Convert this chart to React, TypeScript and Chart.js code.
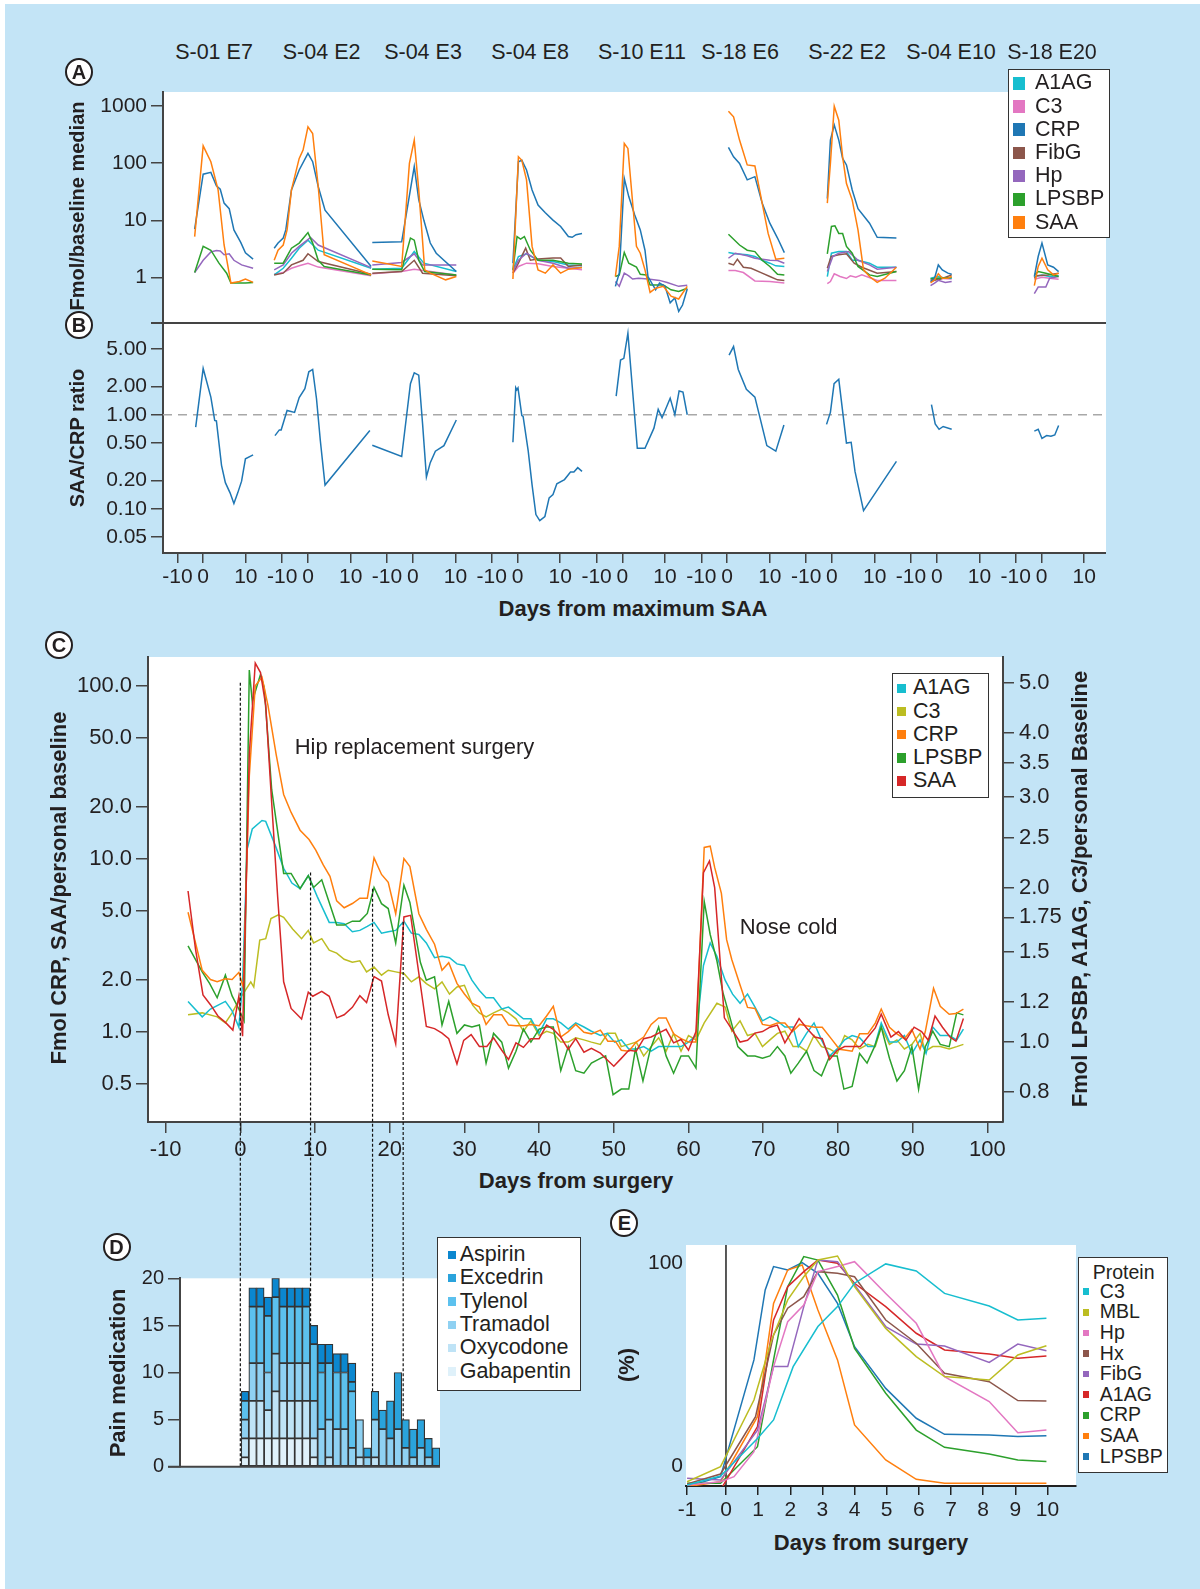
import React, { useEffect, useRef } from "react";
import { Chart, registerables } from "chart.js";
Chart.register(...registerables);

type P = [number, number][];

const FONT = "'Liberation Sans', Arial, Helvetica, sans-serif";
const TXT = "#231f20";
const AXIS = "#444444";
const BG_BLUE = "#c3e4f6";

// ---------------- Panel A / B ----------------
const AB_SUBPANELS = ["S-01 E7", "S-04 E2", "S-04 E3", "S-04 E8", "S-10 E11", "S-18 E6", "S-22 E2", "S-04 E10", "S-18 E20"];
const AB_TICK_DAYS = [-10, 0, 10];
const A_DRAW_ORDER = ["SAA", "CRP", "LPSBP", "Hp", "FibG", "A1AG", "C3"];
const A_LEGEND = ["A1AG", "C3", "CRP", "FibG", "Hp", "LPSBP", "SAA"];
const A_COLORS: Record<string, string> = { A1AG: "#17becf", C3: "#e377c2", CRP: "#1f77b4", FibG: "#8c564b", Hp: "#9467bd", LPSBP: "#2ca02c", SAA: "#ff7f0e" };
const A_Y_TICKS = [1, 10, 100, 1000];
const B_Y_TICKS = [0.05, 0.1, 0.2, 0.5, 1, 2, 5];

const A_S01_E7: Record<string, P> = {
  CRP: [[-3.3, 7.0], [0, 64], [1.8, 69], [3.1, 40], [4.0, 35], [4.9, 20], [6.1, 16], [7.2, 6.8], [8.8, 4.1], [9.9, 2.7], [11.7, 2.1]],
  SAA: [[-3.3, 5.2], [0, 201], [1.8, 106], [3.5, 34], [4.9, 3.7], [6.5, 0.8], [8.5, 0.85], [9.9, 0.94], [11.7, 0.82]],
  LPSBP: [[-3.3, 1.22], [0, 3.5], [1.8, 3.0], [3.7, 1.78], [5.5, 1.19], [6.5, 0.8], [9.9, 0.8], [11.7, 0.82]],
  Hp: [[-3.3, 1.22], [0, 2.0], [1.8, 2.8], [3.1, 2.96], [4.0, 2.9], [4.9, 2.5], [6.1, 2.6], [7.2, 2.0], [9.0, 1.66], [11.7, 1.45]],
};
const A_S04_E2: Record<string, P> = {
  CRP: [[-13.1, 3.25], [-11.6, 4.0], [-9.6, 4.9], [-8.6, 6.8], [-6.4, 34], [-3.4, 76], [0, 148], [1.1, 106], [2.4, 39], [4.0, 15], [14.8, 1.56]],
  SAA: [[-13.1, 2.0], [-11.6, 3.0], [-9.6, 3.7], [-8.1, 6.8], [-6.4, 34], [-3.4, 121], [-1.9, 169], [0, 432], [1.1, 330], [2.4, 39], [3.8, 2.5], [14.8, 1.11]],
  LPSBP: [[-13.1, 1.78], [-9.6, 1.78], [-6.4, 3.25], [-3.4, 4.0], [0, 6.1], [1.1, 4.0], [2.4, 2.0], [3.8, 1.56], [14.8, 1.11]],
  A1AG: [[-13.1, 1.11], [-9.6, 1.45], [-6.4, 2.17], [-3.4, 3.25], [0, 4.5], [2.4, 3.0], [14.8, 1.45]],
  Hp: [[-13.1, 1.36], [-9.6, 1.66], [-6.4, 2.66], [-3.4, 3.5], [0.6, 5.0], [2.4, 3.7], [14.8, 1.49]],
  FibG: [[-13.1, 1.11], [-9.6, 1.19], [-6.4, 1.66], [-1.9, 2.0], [0, 2.6], [2.4, 1.9], [14.8, 1.14]],
  C3: [[-13.1, 1.14], [-9.6, 1.22], [-6.4, 1.45], [-3.4, 1.6], [0, 1.78], [2.4, 1.52], [14.8, 1.07]],
};
const A_S04_E3: Record<string, P> = {
  CRP: [[-15.7, 4.1], [-4.3, 4.2], [0.35, 87], [1.4, 23], [2.6, 10], [4.1, 4.0], [5.5, 2.66], [10.2, 1.27]],
  SAA: [[-15.7, 1.95], [-4.3, 1.56], [-1.3, 99], [0.35, 253], [1.4, 34], [2.8, 1.36], [4.1, 1.19], [7.7, 0.91], [10.2, 1.04]],
  LPSBP: [[-15.7, 1.4], [-4.3, 1.36], [-0.9, 4.9], [0.35, 4.5], [1.4, 2.0], [2.8, 1.27], [10.2, 1.11]],
  A1AG: [[-15.7, 1.4], [-4.3, 1.45], [0.35, 2.84], [2.6, 1.78], [10.2, 1.27]],
  Hp: [[-15.7, 1.66], [-4.3, 1.83], [0.35, 2.6], [2.3, 1.66], [10.2, 1.66]],
  FibG: [[-15.7, 1.19], [-4.3, 1.27], [0.35, 2.0], [2.3, 1.19], [10.2, 1.07]],
  C3: [[-15.7, 1.16], [-4.3, 1.27], [0.35, 1.4], [10.2, 1.11]],
};
const A_S04_E8: Record<string, P> = {
  CRP: [[-1.8, 1.78], [0.2, 106], [1.0, 112], [2.1, 76], [3.4, 34], [4.8, 18.5], [6.5, 13.6], [8.3, 10.1], [10.1, 7.8], [11.9, 5.2], [12.8, 5.05], [13.7, 5.6], [15.1, 5.9]],
  SAA: [[-1.8, 0.94], [0.2, 129], [1.0, 112], [2.1, 51], [3.4, 3.5], [4.8, 1.36], [6.5, 1.19], [8.3, 1.66], [10.1, 1.19], [11.9, 1.4], [15.1, 1.5]],
  LPSBP: [[-1.8, 1.36], [-0.2, 5.2], [0.7, 4.7], [1.6, 5.2], [3.0, 3.0], [4.8, 2.0], [8.3, 2.0], [11.9, 1.78], [15.1, 1.73]],
  A1AG: [[-1.8, 1.36], [0.2, 2.33], [2.1, 2.6], [4.8, 2.0], [8.3, 1.9], [11.9, 1.66], [15.1, 1.6]],
  FibG: [[-1.8, 1.19], [0.2, 1.78], [1.9, 3.25], [3.0, 2.0], [4.8, 2.1], [8.3, 2.2], [10.1, 2.2], [11.9, 1.56], [15.1, 1.66]],
  Hp: [[-1.8, 1.27], [0.2, 2.0], [2.1, 2.66], [4.8, 2.0], [8.3, 1.78], [11.9, 1.45], [15.1, 1.5]],
  C3: [[-1.8, 1.19], [0.2, 1.56], [2.1, 1.78], [4.8, 1.74], [8.3, 1.56], [11.9, 1.45], [15.1, 1.36]],
};
const A_S10_E11: Record<string, P> = {
  CRP: [[-2.7, 0.7], [-1.2, 1.19], [0.45, 54], [1.5, 26], [2.9, 12.4], [4.2, 6.8], [5.3, 3.0], [6.0, 1.04], [7.8, 0.61], [8.7, 0.8], [10.0, 0.7], [11.2, 0.36], [12.3, 0.44], [13.2, 0.255], [14.1, 0.33], [15.2, 0.63]],
  SAA: [[-2.7, 1.04], [-1.2, 3.5], [0.45, 221], [1.3, 181], [3.3, 3.5], [4.2, 2.66], [5.3, 1.36], [6.5, 0.55], [7.8, 0.65], [9.6, 0.7], [11.4, 0.47], [13.2, 0.42], [14.1, 0.53], [15.2, 0.7]],
  LPSBP: [[-2.7, 1.04], [-1.2, 1.11], [0.45, 2.73], [1.5, 1.78], [3.3, 1.52], [4.2, 1.14], [5.6, 1.11], [6.5, 0.74], [9.6, 0.74], [11.4, 0.61], [13.2, 0.57], [15.2, 0.65]],
  Hp: [[-2.7, 0.85], [-1.2, 0.7], [0.45, 1.19], [1.5, 1.07], [2.4, 0.94], [3.8, 0.97], [6.0, 0.94], [8.7, 0.89], [10.5, 0.82], [13.2, 0.7], [15.2, 0.73]],
};
const A_S18_E6: Record<string, P> = {
  SAA: [[0.3, 811], [1.5, 645], [2.9, 253], [4.7, 93], [6.5, 89], [8.2, 20], [9.6, 5.9], [11.4, 2.09], [13.4, 2.17]],
  CRP: [[0.3, 188], [1.5, 129], [2.9, 99], [4.7, 51], [6.5, 58], [8.2, 20], [10.0, 8.9], [11.8, 4.9], [13.4, 2.73]],
  LPSBP: [[0.3, 5.7], [2.9, 3.7], [4.7, 3.0], [6.5, 2.84], [8.2, 2.0], [10.0, 1.56], [11.8, 1.14], [13.4, 1.11]],
  A1AG: [[0.3, 2.73], [1.9, 2.6], [4.7, 2.5], [6.5, 2.33], [8.2, 2.0], [10.0, 1.78], [11.4, 1.6], [13.4, 1.56]],
  Hp: [[0.3, 2.17], [1.9, 2.66], [4.7, 2.4], [6.5, 2.17], [10.0, 2.0], [11.8, 1.98], [13.4, 1.78]],
  FibG: [[0.3, 1.78], [1.5, 1.66], [2.4, 2.09], [3.8, 1.51], [5.6, 1.45], [8.2, 1.19], [10.0, 1.04], [11.8, 0.91], [13.4, 0.89]],
  C3: [[0.3, 1.32], [1.9, 1.32], [3.8, 1.22], [6.5, 0.87], [10.0, 0.85], [13.4, 0.8]],
};
const A_S22_E2: Record<string, P> = {
  CRP: [[-1.8, 24], [-0.6, 253], [0.54, 462], [1.6, 253], [2.5, 121], [3.4, 93], [4.75, 34], [6.1, 16], [8.8, 8.9], [10.6, 5.05], [15.1, 4.9]],
  SAA: [[-1.8, 20], [-0.6, 99], [0.54, 991], [1.6, 565], [2.5, 129], [3.4, 44], [4.75, 22.6], [6.1, 6.8], [7.4, 1.36], [8.8, 1.04], [10.6, 0.82], [12.4, 0.97], [15.1, 1.51]],
  LPSBP: [[-1.8, 2.6], [-0.2, 7.8], [0.7, 8.0], [1.6, 5.9], [2.5, 5.9], [3.4, 3.5], [4.75, 2.66], [6.1, 1.56], [8.8, 1.11], [10.6, 1.04], [15.1, 1.27]],
  A1AG: [[-1.8, 1.04], [-0.2, 2.66], [1.6, 2.84], [3.4, 2.84], [4.75, 2.0], [6.1, 2.0], [8.8, 1.78], [10.6, 1.51], [15.1, 1.51]],
  FibG: [[-1.8, 1.45], [-0.3, 2.33], [1.6, 2.5], [3.4, 2.6], [5.2, 1.78], [7.0, 1.51], [10.6, 1.19], [15.1, 1.27]],
  Hp: [[-1.8, 1.27], [0.2, 2.33], [1.6, 2.66], [3.9, 2.84], [6.1, 2.0], [8.8, 1.66], [10.6, 1.4], [15.1, 1.51]],
  C3: [[-1.8, 0.78], [-0.6, 0.85], [0.54, 1.16], [1.9, 1.04], [3.4, 0.96], [4.3, 1.07], [5.6, 1.01], [7.0, 1.11], [10.6, 0.89], [15.1, 0.89]],
};
const A_S04_E10: Record<string, P> = {
  CRP: [[-2.4, 0.85], [-0.85, 0.97], [0.37, 1.66], [1.3, 1.36], [2.6, 1.19], [3.5, 1.14]],
  SAA: [[-2.4, 0.8], [-0.85, 0.91], [0.37, 1.16], [1.3, 0.97], [2.6, 0.97], [3.5, 1.04]],
  A1AG: [[-2.4, 0.97], [-0.85, 1.01], [0.37, 1.04], [2.0, 0.97], [3.5, 0.97]],
  Hp: [[-2.4, 0.72], [-0.85, 0.8], [0.37, 0.89], [2.0, 0.82], [3.5, 0.85]],
  FibG: [[-2.4, 0.85], [-0.1, 0.91], [0.8, 0.93], [3.5, 1.11]],
  LPSBP: [[-2.4, 0.94], [-0.85, 0.97], [0.37, 0.97], [3.5, 1.0]],
  C3: [[-2.4, 0.91], [0.37, 0.97], [3.5, 0.94]],
};
const A_S18_E20: Record<string, P> = {
  CRP: [[-2.8, 1.04], [-1.3, 2.33], [0.1, 4.0], [1.45, 1.66], [2.8, 1.51], [4.0, 1.27]],
  SAA: [[-2.8, 0.72], [-1.3, 1.56], [0.1, 2.17], [1.45, 1.36], [2.8, 1.11], [4.0, 1.19]],
  Hp: [[-2.8, 0.52], [-1.3, 0.68], [1.0, 0.68], [1.9, 0.97], [4.0, 1.04]],
  LPSBP: [[-2.8, 1.11], [-1.3, 1.27], [1.0, 1.19], [4.0, 1.04]],
  A1AG: [[-2.8, 1.04], [0.1, 1.11], [1.9, 1.04], [4.0, 1.07]],
  FibG: [[-2.8, 0.97], [-1.8, 1.07], [1.45, 1.11], [4.0, 1.19]],
  C3: [[-2.8, 0.93], [0.1, 1.01], [1.9, 0.97], [4.0, 0.93]],
};
const A_DATA = [A_S01_E7, A_S04_E2, A_S04_E3, A_S04_E8, A_S10_E11, A_S18_E6, A_S22_E2, A_S04_E10, A_S18_E20];

const B_S01_E7: P = [[-2.9, 0.74], [0, 3.1], [1.8, 1.54], [2.7, 0.87], [3.1, 0.86], [4.3, 0.29], [5.2, 0.19], [6.3, 0.148], [7.2, 0.114], [8.1, 0.148], [9.0, 0.197], [9.9, 0.34], [11.7, 0.375]];
const B_S04_E2: P = [[-12.8, 0.6], [-11.1, 0.69], [-10.4, 0.69], [-8.1, 1.11], [-5.2, 1.06], [-3.4, 1.52], [-1.2, 1.89], [0.2, 2.86], [1.1, 3.03], [2.0, 1.48], [2.9, 0.53], [4.0, 0.179], [14.5, 0.68]];
const B_S04_E3: P = [[-15.7, 0.475], [-4.3, 0.36], [-0.9, 2.14], [0.35, 2.79], [1.4, 2.63], [2.3, 0.8], [3.2, 0.218], [4.1, 0.31], [5.3, 0.41], [7.3, 0.47], [10.2, 0.88]];
const B_S04_E8: P = [[-1.8, 0.51], [-0.7, 1.94], [-0.3, 1.84], [0.1, 1.93], [1.0, 0.98], [1.3, 0.96], [2.5, 0.41], [3.4, 0.18], [4.3, 0.087], [5.2, 0.075], [6.4, 0.083], [7.4, 0.131], [8.3, 0.142], [9.2, 0.185], [11.0, 0.205], [12.4, 0.246], [13.2, 0.246], [14.1, 0.274], [15.1, 0.25]];
const B_S10_E11: P = [[-2.4, 1.58], [-0.7, 3.81], [0.35, 3.97], [1.3, 7.36], [3.5, 0.44], [5.3, 0.44], [7.4, 0.72], [8.4, 1.14], [9.3, 0.93], [11.2, 1.5], [12.3, 1.0], [13.3, 1.79], [14.2, 1.74], [15.2, 1.0]];
const B_S18_E6: P = [[0.45, 4.3], [1.5, 5.3], [2.6, 3.03], [4.5, 1.86], [6.5, 1.54], [9.3, 0.47], [11.4, 0.41], [13.3, 0.78]];
const B_S22_E2: P = [[-2.1, 0.79], [-0.6, 1.06], [0.5, 2.14], [1.6, 2.38], [3.4, 0.5], [4.5, 0.51], [5.4, 0.25], [7.4, 0.096], [15.1, 0.32]];
const B_S04_E10: P = [[-2.05, 1.28], [-0.6, 0.8], [0.55, 0.7], [1.5, 0.75], [3.5, 0.7]];
const B_S18_E20: P = [[-2.8, 0.67], [-1.3, 0.7], [0.1, 0.56], [1.2, 0.6], [2.2, 0.59], [3.1, 0.61], [4.0, 0.77]];
const B_DATA = [B_S01_E7, B_S04_E2, B_S04_E3, B_S04_E8, B_S10_E11, B_S18_E6, B_S22_E2, B_S04_E10, B_S18_E20];

// ---------------- Panel C ----------------
const C_X_TICKS = [-10, 0, 10, 20, 30, 40, 50, 60, 70, 80, 90, 100];
const C_YL_TICKS = [0.5, 1, 2, 5, 10, 20, 50, 100];
const C_YR_TICKS = [0.8, 1.0, 1.2, 1.5, 1.75, 2.0, 2.5, 3.0, 3.5, 4.0, 5.0];
const C_EVENT_DAYS = [0, 9.4, 17.7, 21.8];
const C_EVENT_TOPS = [104, 8.3, 6.7, 4.3];
const C_SAA: P = [[-7, 6.5], [-6, 3.0], [-5, 1.63], [-4, 1.43], [-3, 1.23], [-2, 1.13], [-1, 1.02], [-0.2, 1.6], [0.3, 0.94], [1.2, 40], [2, 135], [2.7, 119], [3.4, 77], [4.2, 21], [5, 6], [5.8, 1.94], [6.8, 1.36], [8.2, 1.18], [9.1, 1.69], [9.7, 1.6], [10.9, 1.71], [11.9, 1.6], [12.9, 1.2], [13.9, 1.25], [15, 1.38], [16, 1.61], [16.9, 1.47], [17.9, 2.08], [18.9, 1.96], [19.8, 1.25], [20.8, 0.85], [21.9, 4.6], [22.8, 4.7], [24.9, 1.07], [26, 1.04], [27, 0.98], [27.9, 0.91], [29, 0.65], [29.9, 0.89], [30.9, 0.96], [32, 0.82], [33, 0.82], [33.9, 0.92], [35, 0.78], [35.9, 0.69], [36.9, 0.86], [37.9, 0.81], [38.9, 0.91], [40, 0.91], [41, 1.09], [41.9, 1.03], [42.9, 0.93], [43.9, 0.79], [44.9, 0.91], [46, 0.76], [47, 0.8], [48.2, 0.75], [49.2, 0.68], [50, 0.63], [51, 0.7], [52, 0.78], [53, 0.77], [54, 0.91], [55, 0.93], [56, 0.98], [57, 1.03], [58, 0.86], [59, 0.9], [60, 0.78], [61, 1.0], [62, 8.3], [62.8, 9.7], [63.5, 6.8], [64.8, 1.2], [65.8, 1.03], [66.9, 0.87], [67.9, 0.89], [68.9, 0.98], [69.9, 1.0], [70.9, 1.06], [71.9, 1.09], [72.9, 0.86], [73.8, 1.0], [74.8, 1.19], [75.8, 1.05], [76.9, 0.93], [77.9, 0.91], [78.9, 0.69], [79.9, 0.78], [80.9, 0.82], [81.9, 0.82], [83, 0.82], [84, 0.93], [85, 1.05], [85.8, 1.26], [87.1, 0.93], [88.1, 1.0], [89.1, 0.89], [90.2, 1.06], [91.2, 1.0], [92.1, 0.89], [93, 1.23], [94, 1.06], [95, 0.93], [95.8, 0.88], [96.8, 1.19]];
const C_CRP: P = [[-7, 4.9], [-5.1, 2.26], [-4, 2.0], [-3.1, 1.94], [-2, 2.02], [-1.1, 2.0], [-0.2, 2.2], [0.4, 1.8], [1.2, 30], [2, 100], [2.9, 112], [3.7, 77], [4.8, 40], [5.8, 23.5], [6.8, 18.5], [8, 14.6], [9.2, 12.9], [10.1, 11.2], [11.1, 9.2], [12, 7.9], [12.9, 5.7], [13.9, 5.2], [15, 5.5], [16, 5.9], [17, 5.9], [17.9, 10.1], [18.9, 8.1], [19.8, 7.3], [20.8, 4.8], [21.9, 10], [22.7, 9.0], [23.9, 4.8], [24.9, 3.9], [26, 3.2], [27, 2.26], [27.9, 2.5], [29, 1.9], [30, 1.65], [31, 1.46], [32, 1.39], [32.9, 1.1], [33.9, 1.25], [35, 1.25], [35.9, 1.09], [36.9, 1.08], [37.9, 1.08], [38.9, 1.1], [40, 1.08], [41, 1.23], [41.9, 1.4], [42.9, 0.93], [43.9, 1.0], [44.9, 1.1], [46, 0.99], [47, 0.97], [48.2, 1.02], [49.2, 0.88], [50.2, 0.88], [51, 0.78], [52, 0.77], [53, 0.87], [54, 0.93], [55, 1.1], [56, 1.2], [57, 1.2], [58, 0.97], [59, 0.91], [60, 0.87], [61, 0.87], [62.1, 11.6], [62.9, 11.8], [63.5, 8.9], [64.4, 6.3], [65.1, 3.4], [65.8, 2.6], [66.9, 1.86], [67.9, 1.38], [68.9, 1.36], [69.9, 1.1], [70.9, 1.08], [71.9, 1.12], [72.9, 1.12], [73.9, 1.0], [74.9, 1.1], [75.8, 1.08], [76.9, 1.06], [77.9, 1.06], [79.1, 0.91], [80.2, 0.79], [81.1, 0.78], [81.9, 0.77], [82.9, 0.97], [84, 0.97], [85, 1.12], [85.8, 1.35], [86.9, 1.06], [87.9, 0.97], [88.9, 0.91], [89.9, 1.03], [91, 0.79], [91.7, 1.0], [92.8, 1.78], [93.7, 1.4], [94.9, 1.26], [95.8, 1.27], [96.8, 1.35]];
const C_LPSBP: P = [[-7, 1.54], [-5.1, 1.37], [-4.1, 1.3], [-3.1, 1.22], [-2, 1.35], [-1.1, 1.23], [-0.2, 1.16], [0.5, 1.1], [1.2, 5.3], [1.6, 4.6], [2.7, 5.2], [3.2, 4.9], [4.2, 3.1], [5.8, 2.13], [6.8, 2.13], [8, 1.99], [9.1, 2.11], [9.8, 2.0], [10.9, 2.07], [11.9, 1.87], [12.9, 1.69], [13.9, 1.69], [15, 1.72], [16, 1.72], [17, 1.78], [17.9, 2.0], [18.9, 1.86], [19.8, 1.82], [20.8, 1.56], [21.9, 2.02], [22.7, 1.87], [24.1, 1.43], [24.9, 1.32], [26, 1.34], [27, 1.08], [27.9, 1.2], [29, 1.04], [30, 1.08], [31, 1.07], [32, 1.08], [32.9, 0.91], [33.9, 1.04], [35, 1.0], [35.9, 0.89], [36.9, 0.96], [37.9, 1.06], [38.9, 1.0], [40, 1.06], [41, 1.07], [41.9, 1.07], [42.9, 0.88], [43.9, 0.98], [44.9, 0.88], [46, 0.87], [47, 0.91], [48.2, 0.93], [48.9, 0.94], [49.9, 0.79], [51, 0.81], [52, 0.81], [52.9, 0.97], [53.9, 0.84], [54.9, 0.97], [56, 1.07], [57, 0.94], [58, 0.87], [59, 0.94], [60, 0.94], [61, 0.89], [62.1, 1.88], [62.9, 1.62], [63.8, 1.44], [64.6, 1.25], [65.6, 1.11], [66.6, 0.98], [67.9, 0.94], [68.9, 0.94], [69.9, 0.93], [70.9, 0.94], [71.9, 0.98], [72.9, 0.94], [73.7, 0.87], [74.7, 0.91], [75.8, 0.96], [76.8, 0.88], [77.8, 0.86], [78.9, 0.94], [79.9, 0.94], [80.8, 0.81], [81.9, 0.82], [82.9, 0.95], [83.9, 0.91], [84.9, 0.98], [85.8, 1.07], [86.9, 0.93], [87.9, 0.84], [88.9, 0.88], [89.9, 0.98], [90.8, 0.81], [91.7, 0.98], [92.7, 1.05], [93.7, 0.99], [94.9, 0.98], [95.9, 1.14], [96.8, 1.13]];
const C_A1AG: P = [[-7, 1.2], [-5.1, 1.12], [-4, 1.16], [-2, 1.2], [-1.1, 1.15], [-0.2, 1.07], [0.3, 1.3], [0.9, 2.37], [1.6, 2.6], [2.9, 2.7], [3.4, 2.69], [4.7, 2.41], [5.8, 2.18], [6.9, 2.04], [8, 1.99], [9.1, 2.11], [10.3, 1.92], [11.9, 1.71], [12.9, 1.71], [13.9, 1.7], [15, 1.64], [16, 1.65], [17, 1.68], [17.9, 1.71], [18.9, 1.63], [19.8, 1.64], [20.8, 1.65], [21.9, 1.72], [22.9, 1.63], [23.9, 1.62], [24.9, 1.56], [26, 1.46], [27, 1.47], [28, 1.46], [29, 1.42], [30, 1.41], [31, 1.32], [32, 1.26], [32.9, 1.22], [33.9, 1.22], [35, 1.16], [35.9, 1.17], [36.9, 1.14], [37.9, 1.11], [38.9, 1.11], [40, 1.04], [41, 1.11], [41.9, 1.11], [42.9, 1.09], [43.9, 1.06], [44.9, 1.09], [46, 1.07], [47, 1.05], [48.2, 1.03], [49.1, 1.04], [50.1, 1.0], [51, 1.01], [52, 0.97], [53, 0.97], [54, 0.98], [55, 0.96], [56, 0.98], [57, 0.98], [58, 0.98], [59, 0.98], [60, 1.0], [61, 1.03], [62, 1.41], [62.9, 1.56], [63.8, 1.47], [64.9, 1.32], [65.9, 1.24], [66.9, 1.19], [67.9, 1.24], [68.9, 1.17], [69.9, 1.1], [70.9, 1.12], [71.9, 1.1], [72.9, 1.07], [74, 1.07], [74.7, 0.98], [75.8, 1.04], [76.8, 1.09], [77.8, 1.01], [78.9, 0.94], [79.9, 0.97], [80.9, 1.01], [81.9, 1.03], [82.9, 1.02], [84, 0.98], [84.9, 0.98], [85.8, 1.09], [86.9, 1.0], [87.9, 1.0], [88.9, 1.03], [89.9, 0.95], [91, 1.01], [91.8, 0.95], [92.7, 1.07], [93.7, 1.03], [94.9, 1.03], [95.9, 1.01], [96.8, 1.06]];
const C_C3: P = [[-7, 1.13], [-5.1, 1.14], [-3.1, 1.12], [-2, 1.09], [-1.1, 1.14], [0, 1.22], [0.5, 1.25], [1.4, 1.31], [1.8, 1.28], [2.6, 1.58], [3.4, 1.59], [4.1, 1.74], [5.1, 1.77], [5.8, 1.75], [7, 1.66], [8.2, 1.59], [9.1, 1.65], [9.8, 1.56], [10.9, 1.59], [11.9, 1.51], [12.9, 1.49], [13.9, 1.45], [15, 1.43], [16, 1.44], [16.9, 1.37], [17.9, 1.4], [18.9, 1.35], [19.8, 1.38], [20.8, 1.37], [21.9, 1.36], [22.9, 1.31], [23.9, 1.34], [24.9, 1.3], [26, 1.27], [27, 1.31], [28, 1.24], [29, 1.28], [30, 1.29], [31.1, 1.18], [32, 1.14], [32.9, 1.12], [33.9, 1.14], [35, 1.16], [35.9, 1.14], [36.9, 1.11], [37.9, 1.05], [38.9, 1.1], [40, 1.03], [41, 1.05], [41.9, 1.04], [42.9, 1.0], [43.9, 1.0], [44.9, 1.02], [46, 1.01], [47, 1.0], [48.2, 0.99], [49.2, 1.04], [50.2, 1.04], [51, 0.98], [52, 0.99], [53, 1.0], [54, 0.94], [55, 0.98], [56, 1.02], [57, 0.96], [58, 1.04], [59, 0.96], [60, 1.03], [61, 1.01], [62.1, 1.09], [63.8, 1.19], [64.9, 1.17], [65.8, 1.05], [66.9, 1.1], [67.9, 1.03], [68.9, 1.04], [69.9, 0.98], [70.9, 1.01], [71.9, 1.04], [72.9, 1.05], [74, 0.98], [74.9, 0.98], [75.8, 0.96], [76.8, 1.03], [77.8, 0.98], [78.9, 0.97], [79.9, 0.95], [80.9, 1.03], [81.9, 1.01], [82.9, 0.97], [84, 0.99], [85, 0.98], [85.8, 1.07], [86.9, 0.99], [87.9, 1.01], [88.9, 0.97], [89.9, 0.99], [91, 1.04], [91.7, 0.96], [92.7, 0.98], [93.7, 0.98], [94.9, 0.97], [95.9, 0.98], [96.8, 0.99]];
const C_LEGEND = ["A1AG", "C3", "CRP", "LPSBP", "SAA"];
const C_COLORS: Record<string, string> = { A1AG: "#17becf", C3: "#bcbd22", CRP: "#ff7f0e", LPSBP: "#2ca02c", SAA: "#d62728" };

// ---------------- Panel D ----------------
const D_DAYS = [0, 1, 2, 3, 4, 5, 6, 7, 8, 9, 10, 11, 12, 13, 14, 15, 16, 17, 18, 19, 20, 21, 22, 23, 24, 25];
const D_GABAPENTIN = [1, 3, 3, 3, 3, 3, 3, 3, 3, 1, 0, 0, 0, 0, 0, 0, 0, 0, 0, 0, 0, 0, 0, 0, 0, 0];
const D_OXYCODONE = [2, 4, 4, 3, 5, 4, 4, 4, 4, 2, 0, 1, 0, 0, 0, 1, 0, 1, 0, 0, 0, 0, 0, 0, 0, 0];
const D_TRAMADOL = [2, 4, 4, 4, 4, 4, 4, 4, 4, 4, 4, 4, 4, 4, 2, 4, 1, 4, 4, 3, 4, 2, 1, 2, 1, 0];
const D_TYLENOL = [2, 6, 6, 6, 6, 6, 6, 6, 6, 6, 6, 6, 6, 6, 6, 0, 0, 0, 0, 0, 0, 0, 0, 0, 0, 0];
const D_EXCEDRIN = [0, 0, 0, 0, 0, 0, 0, 0, 0, 0, 1, 0, 0, 0, 1, 0, 1, 3, 2, 4, 6, 3, 3, 3, 2, 2];
const D_ASPIRIN = [1, 2, 2, 2, 2, 2, 2, 2, 2, 2, 2, 2, 2, 2, 2, 0, 0, 0, 0, 0, 0, 0, 0, 0, 0, 0];
const D_LEGEND = ["Aspirin", "Excedrin", "Tylenol", "Tramadol", "Oxycodone", "Gabapentin"];
const D_COLORS: Record<string, string> = { Aspirin: "#0b87cf", Excedrin: "#2aa3dc", Tylenol: "#5cc1ee", Tramadol: "#8fd1f2", Oxycodone: "#bfe3f6", Gabapentin: "#dff1fa" };
const D_Y_TICKS = [0, 5, 10, 15, 20];

// ---------------- Panel E ----------------
const E_X_TICKS = [-1, 0, 1, 2, 3, 4, 5, 6, 7, 8, 9, 10];
const E_Y_TICKS = [0, 100];
const E_C3: P = [[-1, -9.0], [-0.14, -4.6], [0.98, 13.9], [1.48, 23.0], [2.09, 49.2], [2.86, 68.9], [3.47, 78.7], [4.0, 90.2], [4.97, 99.7], [5.92, 96.2], [6.8, 85.2], [8.19, 79.0], [9.08, 72.1], [9.97, 73.0]];
const E_MBL: P = [[-1, -7.4], [-0.14, 0], [0.87, 32.8], [1.42, 62.3], [1.92, 82.0], [2.42, 93.4], [2.86, 101.6], [3.47, 103.6], [4.0, 88.5], [4.97, 68.0], [5.92, 54.1], [6.8, 44.3], [8.19, 42.6], [9.08, 54.9], [9.97, 59.5]];
const E_HP: P = [[-1, -9.0], [-0.14, -7.4], [0.25, -4.9], [0.87, 7.4], [1.48, 49.2], [1.92, 71.3], [2.42, 79.5], [2.86, 95.9], [3.47, 98.4], [4.0, 100.8], [4.97, 85.2], [5.92, 70.5], [6.8, 44.3], [8.19, 32.0], [9.08, 16.7], [9.97, 18.0]];
const E_HX: P = [[-1, -8.5], [-0.14, -3.6], [0.92, 24.6], [1.48, 64.8], [1.92, 77.9], [2.42, 83.6], [2.86, 95.9], [3.47, 95.1], [4.0, 93.4], [4.97, 72.1], [5.92, 60.7], [6.8, 45.9], [8.19, 41.8], [9.08, 32.5], [9.97, 32.3]];
const E_FIBG: P = [[-1, -5.7], [-0.14, -6.6], [0.98, 18.0], [1.48, 49.2], [1.92, 49.2], [2.42, 78.7], [2.86, 101.6], [3.47, 100.8], [4.0, 89.3], [4.97, 68.9], [5.92, 60.3], [6.8, 59.3], [8.19, 51.3], [9.08, 60.3], [9.97, 57.0]];
const E_A1AG: P = [[-1, -11.5], [-0.14, -11.5], [0.98, 19.7], [1.48, 72.1], [1.92, 88.5], [2.42, 95.9], [2.86, 101.6], [3.47, 100.0], [4.0, 90.2], [4.97, 78.7], [5.92, 65.6], [6.8, 57.4], [8.19, 55.4], [9.08, 53.3], [9.97, 54.4]];
const E_CRP: P = [[-1, -8.2], [-0.14, -8.2], [0.98, 9.8], [1.48, 52.5], [1.92, 88.5], [2.42, 103.3], [2.86, 101.6], [3.47, 84.4], [4.0, 58.2], [4.97, 36.1], [5.92, 18.0], [6.8, 9.5], [8.19, 6.2], [9.08, 3.3], [9.97, 2.5]];
const E_SAA: P = [[-1, -9.8], [-0.14, -7.4], [0.98, 24.6], [1.48, 80.3], [1.92, 96.7], [2.37, 99.2], [2.86, 77.0], [3.47, 52.5], [4.0, 20.5], [4.97, 3.3], [5.92, -6.2], [6.8, -8.2], [8.19, -8.2], [9.08, -8.2], [9.97, -8.2]];
const E_LPSBP: P = [[-1, -9.8], [-0.14, -4.9], [0.87, 52.5], [1.22, 86.9], [1.48, 98.4], [1.92, 96.7], [2.37, 100.3], [2.86, 95.1], [3.47, 80.3], [4.0, 59.0], [4.97, 38.5], [5.92, 23.8], [6.8, 15.9], [8.19, 15.6], [9.08, 14.8], [9.97, 15.2]];
const E_LEGEND = ["C3", "MBL", "Hp", "Hx", "FibG", "A1AG", "CRP", "SAA", "LPSBP"];
const E_SERIES: Record<string, P> = { C3: E_C3, MBL: E_MBL, Hp: E_HP, Hx: E_HX, FibG: E_FIBG, A1AG: E_A1AG, CRP: E_CRP, SAA: E_SAA, LPSBP: E_LPSBP };
const E_COLORS: Record<string, string> = { C3: "#17becf", MBL: "#bcbd22", Hp: "#e377c2", Hx: "#8c564b", FibG: "#9467bd", A1AG: "#d62728", CRP: "#2ca02c", SAA: "#ff7f0e", LPSBP: "#1f77b4" };

// ---------------- axis geometry (piecewise day axes) ----------------
const AB_PERIOD = 24.55;
const AB_NEG = 0.604;
const abX = (i: number, d: number) => i * AB_PERIOD + (d < 0 ? d * AB_NEG : d);
const AB_TICKS = AB_SUBPANELS.flatMap((_, i) => AB_TICK_DAYS.map((d) => ({ v: abX(i, d), label: String(d) })));
const E_NEG = 1.21;
const eX = (d: number) => (d < 0 ? d * E_NEG : d);

// canvas boxes (page coordinates)
const BOX = {
  A: { l: 90, t: 82, w: 1016, h: 241 },
  B: { l: 90, t: 318, w: 1016, h: 275 },
  C: { l: 70, t: 647, w: 1000, h: 518 },
  D: { l: 120, t: 1255, w: 320, h: 220 },
  E: { l: 630, t: 1240, w: 450, h: 290 },
};

const tickFont = (size = 21) => ({ family: FONT, size });
const noPad = (s: any) => { s.paddingTop = 0; s.paddingBottom = 0; s.paddingLeft = 0; s.paddingRight = 0; };
const whiteArea = {
  id: "whiteArea",
  beforeDraw(chart: any) {
    const { ctx, chartArea: a } = chart;
    ctx.save();
    ctx.fillStyle = "#ffffff";
    ctx.fillRect(a.left, a.top, a.right - a.left, a.bottom - a.top);
    ctx.restore();
  },
};
const baseOpts = (padding: any) => ({
  responsive: false,
  maintainAspectRatio: false,
  animation: false,
  devicePixelRatio: 1,
  events: [],
  layout: { padding },
  plugins: { legend: { display: false }, tooltip: { enabled: false }, title: { display: false } },
  elements: { point: { radius: 0 }, line: { borderWidth: 1.5, tension: 0 } },
});
const line = (label: string, color: string, pts: { x: number; y: number }[], extra: any = {}) => ({
  type: "line",
  label,
  data: pts,
  borderColor: color,
  backgroundColor: color,
  borderWidth: 1.5,
  pointRadius: 0,
  fill: false,
  ...extra,
});
const logY = (min: number, max: number, ticks: number[], fmt: (v: number) => string, width: number, size: number, extra: any = {}) => ({
  type: "logarithmic",
  min,
  max,
  afterBuildTicks: (s: any) => { s.ticks = ticks.map((v) => ({ value: v })); },
  afterFit: (s: any) => { s.width = width; noPad(s); },
  ticks: { font: tickFont(size), color: TXT, padding: 4, autoSkip: false, callback: (v: any) => fmt(Number(v)) },
  grid: { drawOnChartArea: false, tickLength: 12, color: AXIS, lineWidth: 1.5 },
  border: { display: true, color: AXIS, width: 2 },
  ...extra,
});
const abXScale = (display: boolean) => ({
  type: "linear",
  min: -9.41,
  max: 211.5,
  display,
  afterBuildTicks: (s: any) => { s.ticks = AB_TICKS.map((t) => ({ value: t.v })); },
  afterFit: (s: any) => { s.height = display ? 40 : 0; noPad(s); },
  ticks: { autoSkip: false, maxRotation: 0, minRotation: 0, padding: 2, font: tickFont(21), color: TXT, callback: (_v: any, i: number) => (AB_TICKS[i] ? AB_TICKS[i].label : "") },
  grid: { drawOnChartArea: false, tickLength: 10, color: AXIS, lineWidth: 1.5 },
  border: { display: true, color: AXIS, width: 2 },
});
const toXY = (p: P, fx: (d: number) => number = (d) => d) => p.map(([d, v]) => ({ x: fx(d), y: v }));

function Txt(props: { x: number; y: number; children: any; size?: number; bold?: boolean; rot?: boolean; left?: boolean }) {
  const { x, y, children, size = 22, bold = false, rot = false, left = false } = props;
  return (
    <div
      style={{
        position: "absolute",
        left: x,
        top: y,
        transform: `translate(${left ? "0" : "-50%"}, -50%)${rot ? " rotate(-90deg)" : ""}`,
        whiteSpace: "nowrap",
        fontSize: size,
        fontWeight: bold ? 700 : 400,
        lineHeight: 1,
        zIndex: 6,
        color: TXT,
      }}
    >
      {children}
    </div>
  );
}
function Circ({ x, y, l }: { x: number; y: number; l: string }) {
  return (
    <div
      style={{
        position: "absolute", left: x - 14, top: y - 14, width: 28, height: 28, boxSizing: "border-box",
        border: "2px solid #231f20", borderRadius: "50%", background: "#fff", display: "flex",
        alignItems: "center", justifyContent: "center", fontWeight: 700, fontSize: 20, zIndex: 6, color: TXT, lineHeight: 1,
      }}
    >
      {l}
    </div>
  );
}
function LegendBox(props: { l: number; t: number; w: number; h: number; items: string[]; colors: Record<string, string>; y0: number; dy: number; mx: number; ms: number; tx: number; size: number; title?: string; titleX?: number; titleY?: number }) {
  const { l, t, w, h, items, colors, y0, dy, mx, ms, tx, size, title, titleX, titleY } = props;
  return (
    <>
      <div style={{ position: "absolute", left: l, top: t, width: w, height: h, boxSizing: "border-box", border: "1.5px solid #333", background: "#fff", zIndex: 5 }} />
      {title ? <Txt x={titleX!} y={titleY!} size={size} left>{title}</Txt> : null}
      {items.map((p, k) => (
        <React.Fragment key={p}>
          <div style={{ position: "absolute", left: mx, top: y0 + dy * k - ms / 2, width: ms, height: ms, background: colors[p], zIndex: 6 }} />
          <Txt x={tx} y={y0 + dy * k} size={size} left>{p}</Txt>
        </React.Fragment>
      ))}
    </>
  );
}

const HEADER_X = [214, 321.6, 423, 530, 642, 740, 847, 951, 1052];

export default function App() {
  const aRef = useRef<HTMLCanvasElement>(null);
  const bRef = useRef<HTMLCanvasElement>(null);
  const cRef = useRef<HTMLCanvasElement>(null);
  const dRef = useRef<HTMLCanvasElement>(null);
  const eRef = useRef<HTMLCanvasElement>(null);
  const oRef = useRef<HTMLCanvasElement>(null);

  useEffect(() => {
    const charts: Chart[] = [];

    // ---- A ----
    const aSets: any[] = [];
    A_DATA.forEach((panel, i) => {
      A_DRAW_ORDER.forEach((p) => {
        if (panel[p]) aSets.push(line(p, A_COLORS[p], toXY(panel[p], (d) => abX(i, d))));
      });
    });
    charts.push(
      new Chart(aRef.current!, {
        type: "line",
        data: { datasets: aSets },
        options: {
          ...baseOpts({ top: 10 }),
          scales: {
            x: abXScale(false),
            y: logY(0.16, 1755, A_Y_TICKS, (v) => String(v), 73, 21),
          },
        } as any,
        plugins: [whiteArea],
      } as any)
    );

    // ---- B ----
    const bSets = B_DATA.map((p, i) => line("SAA/CRP", "#1f77b4", toXY(p, (d) => abX(i, d))));
    const bPlug = {
      id: "bDeco",
      beforeDatasetsDraw(chart: any) {
        const { ctx, chartArea: a, scales } = chart;
        const y = scales.y.getPixelForValue(1);
        ctx.save();
        ctx.strokeStyle = "#a8a8a8";
        ctx.lineWidth = 1.6;
        ctx.setLineDash([9, 6]);
        ctx.beginPath();
        ctx.moveTo(a.left, y);
        ctx.lineTo(a.right, y);
        ctx.stroke();
        ctx.restore();
      },
      afterDraw(chart: any) {
        const { ctx, chartArea: a } = chart;
        ctx.save();
        ctx.strokeStyle = AXIS;
        ctx.lineWidth = 2;
        ctx.beginPath();
        ctx.moveTo(a.left - 12, a.top);
        ctx.lineTo(a.right, a.top);
        ctx.stroke();
        ctx.restore();
      },
    };
    charts.push(
      new Chart(bRef.current!, {
        type: "line",
        data: { datasets: bSets },
        options: {
          ...baseOpts({ top: 5 }),
          scales: {
            x: abXScale(true),
            y: logY(0.034, 9.43, B_Y_TICKS, (v) => v.toFixed(2), 73, 21),
          },
        } as any,
        plugins: [whiteArea, bPlug],
      } as any)
    );

    // ---- C ----
    const fmtR = (v: number) => (v === 1.75 ? "1.75" : v.toFixed(1));
    const cChart = new Chart(cRef.current!, {
      type: "line",
      data: {
        datasets: [
          line("SAA", C_COLORS.SAA, toXY(C_SAA), { yAxisID: "yL" }),
          line("CRP", C_COLORS.CRP, toXY(C_CRP), { yAxisID: "yL" }),
          line("LPSBP", C_COLORS.LPSBP, toXY(C_LPSBP), { yAxisID: "yR" }),
          line("A1AG", C_COLORS.A1AG, toXY(C_A1AG), { yAxisID: "yR" }),
          line("C3", C_COLORS.C3, toXY(C_C3), { yAxisID: "yR" }),
        ],
      },
      options: {
        ...baseOpts({ top: 10 }),
        scales: {
          x: {
            type: "linear", min: -12.36, max: 102.1,
            afterBuildTicks: (s: any) => { s.ticks = C_X_TICKS.map((v) => ({ value: v })); },
            afterFit: (s: any) => { s.height = 43; noPad(s); },
            ticks: { autoSkip: false, maxRotation: 0, padding: 4, font: tickFont(22), color: TXT, callback: (v: any) => String(v) },
            grid: { drawOnChartArea: false, tickLength: 11, color: AXIS, lineWidth: 1.5 },
            border: { display: true, color: AXIS, width: 2 },
          },
          yL: logY(0.349, 146.5, C_YL_TICKS, (v) => v.toFixed(1), 78, 22, { position: "left" }),
          yR: logY(0.699, 5.62, C_YR_TICKS, fmtR, 67, 22, {
            position: "right",
            ticks: { font: tickFont(22), color: TXT, padding: 5, autoSkip: false, callback: (v: any) => fmtR(Number(v)) },
            grid: { drawOnChartArea: false, tickLength: 11, color: AXIS, lineWidth: 1.5 },
          }),
        },
      } as any,
      plugins: [whiteArea],
    } as any);
    charts.push(cChart);

    const evX = C_EVENT_DAYS.map((d) => BOX.C.l + (cChart.scales as any).x.getPixelForValue(d));
    const evTop = C_EVENT_TOPS.map((v) => BOX.C.t + (cChart.scales as any).yL.getPixelForValue(v));

    // ---- D ----
    const dPlug = {
      id: "dDeco",
      beforeDatasetsDraw(chart: any) {
        const { ctx, chartArea: a } = chart;
        ctx.save();
        ctx.strokeStyle = "#111";
        ctx.lineWidth = 1.2;
        ctx.setLineDash([3, 2]);
        evX.forEach((px) => {
          const x = px - BOX.D.l;
          ctx.beginPath();
          ctx.moveTo(x, a.top);
          ctx.lineTo(x, a.bottom);
          ctx.stroke();
        });
        ctx.restore();
      },
      afterDraw(chart: any) {
        const { ctx, chartArea: a } = chart;
        ctx.save();
        ctx.strokeStyle = AXIS;
        ctx.lineWidth = 2;
        ctx.beginPath();
        ctx.moveTo(a.left - 12, a.bottom);
        ctx.lineTo(a.right, a.bottom);
        ctx.stroke();
        ctx.restore();
      },
    };
    const dSeries: [string, number[]][] = [
      ["Gabapentin", D_GABAPENTIN],
      ["Oxycodone", D_OXYCODONE],
      ["Tramadol", D_TRAMADOL],
      ["Tylenol", D_TYLENOL],
      ["Excedrin", D_EXCEDRIN],
      ["Aspirin", D_ASPIRIN],
    ];
    const dChart = new Chart(dRef.current!, {
      type: "bar",
      data: {
        datasets: dSeries.map(([name, vals]) => ({
          label: name,
          data: D_DAYS.map((d, k) => ({ x: d, y: vals[k] > 0 ? vals[k] : null })),
          backgroundColor: D_COLORS[name],
          borderColor: "#333",
          borderWidth: 1.2,
          borderSkipped: false,
          barPercentage: 1,
          categoryPercentage: 1,
        })),
      },
      options: {
        ...baseOpts({ top: 23.3, bottom: 8.3 }),
        scales: {
          x: { type: "linear", min: -8.5, max: 25.5, stacked: true, display: false, offset: false },
          y: {
            type: "linear", min: 0, max: 20, stacked: true,
            afterBuildTicks: (s: any) => { s.ticks = D_Y_TICKS.map((v) => ({ value: v })); },
            afterFit: (s: any) => { s.width = 60; noPad(s); },
            ticks: { font: tickFont(20), color: TXT, padding: 4, callback: (v: any) => String(v) },
            grid: { drawOnChartArea: false, tickLength: 12, color: AXIS, lineWidth: 1.5 },
            border: { display: true, color: AXIS, width: 2 },
          },
        },
      } as any,
      plugins: [whiteArea, dPlug],
    } as any);
    charts.push(dChart);

    // ---- E ----
    const ePlug = {
      id: "eDeco",
      beforeDatasetsDraw(chart: any) {
        const { ctx, chartArea: a, scales } = chart;
        const x = scales.x.getPixelForValue(0);
        ctx.save();
        ctx.strokeStyle = "#222";
        ctx.lineWidth = 1.5;
        ctx.beginPath();
        ctx.moveTo(x, a.top);
        ctx.lineTo(x, a.bottom);
        ctx.stroke();
        ctx.restore();
      },
    };
    charts.push(
      new Chart(eRef.current!, {
        type: "line",
        data: { datasets: E_LEGEND.map((p) => line(p, E_COLORS[p], toXY(E_SERIES[p], eX))) },
        options: {
          ...baseOpts({ top: 5, right: 4 }),
          scales: {
            x: {
              type: "linear", min: -1.244, max: 10.89,
              afterBuildTicks: (s: any) => { s.ticks = E_X_TICKS.map((v) => ({ value: eX(v) })); },
              afterFit: (s: any) => { s.height = 44; noPad(s); },
              ticks: { autoSkip: false, maxRotation: 0, padding: 3, font: tickFont(21), color: TXT, callback: (_v: any, i: number) => String(E_X_TICKS[i]) },
              grid: { drawOnChartArea: false, tickLength: 9, color: "#222", lineWidth: 1.5 },
              border: { display: true, color: "#222", width: 2 },
            },
            y: {
              type: "linear", min: -9.5, max: 109,
              afterBuildTicks: (s: any) => { s.ticks = E_Y_TICKS.map((v) => ({ value: v })); },
              afterFit: (s: any) => { s.width = 56; noPad(s); },
              ticks: { font: tickFont(21), color: TXT, padding: 3, callback: (v: any) => String(v) },
              grid: { display: false, drawTicks: false },
              border: { display: false },
            },
          },
        } as any,
        plugins: [whiteArea, ePlug],
      } as any)
    );

    // ---- overlay: event lines from panel C down to panel D ----
    const o = oRef.current!;
    const octx = o.getContext("2d")!;
    octx.clearRect(0, 0, o.width, o.height);
    const dTop = BOX.D.t + (dChart.chartArea as any).top;
    octx.strokeStyle = "#111";
    octx.lineWidth = 1.2;
    octx.setLineDash([3, 2]);
    evX.forEach((x, k) => {
      octx.beginPath();
      octx.moveTo(x, evTop[k]);
      octx.lineTo(x, dTop);
      octx.stroke();
    });

    return () => {
      charts.forEach((c) => c.destroy());
      octx.clearRect(0, 0, o.width, o.height);
    };
  }, []);

  const cv = (ref: any, b: { l: number; t: number; w: number; h: number }, z = 2) => (
    <canvas ref={ref} width={b.w} height={b.h} style={{ position: "absolute", left: b.l, top: b.t, width: b.w, height: b.h, zIndex: z }} />
  );

  return (
    <div style={{ position: "absolute", left: 0, top: 0, width: 1200, height: 1589, background: "#fff", overflow: "hidden", fontFamily: FONT, color: TXT }}>
      <div style={{ position: "absolute", left: 5, top: 4, width: 1195, height: 1585, background: BG_BLUE }} />
      {cv(aRef, BOX.A)}
      {cv(bRef, BOX.B)}
      {cv(cRef, BOX.C)}
      {cv(dRef, BOX.D)}
      {cv(eRef, BOX.E)}
      <canvas ref={oRef} width={1200} height={1589} style={{ position: "absolute", left: 0, top: 0, width: 1200, height: 1589, zIndex: 7, pointerEvents: "none" }} />

      {/* Panel A/B texts */}
      {AB_SUBPANELS.map((s, i) => (
        <Txt key={s} x={HEADER_X[i]} y={53} size={21.5}>{s}</Txt>
      ))}
      <Circ x={79} y={72} l="A" />
      <Circ x={79} y={325} l="B" />
      <Txt x={76.5} y={206} size={20} bold rot>Fmol/baseline median</Txt>
      <Txt x={76.5} y={437.5} size={20} bold rot>SAA/CRP ratio</Txt>
      <Txt x={633} y={609} bold>Days from maximum SAA</Txt>
      <LegendBox l={1007.6} t={69.3} w={102.4} h={169} items={A_LEGEND} colors={A_COLORS} y0={83.3} dy={23.2} mx={1012.6} ms={12.6} tx={1035} size={21.5} />

      {/* Panel C texts */}
      <Circ x={59} y={645} l="C" />
      <Txt x={59} y={888} bold rot>Fmol CRP, SAA/personal baseline</Txt>
      <Txt x={1080} y={889} bold rot>Fmol LPSBP, A1AG, C3/personal Baseline</Txt>
      <Txt x={576} y={1181} bold>Days from surgery</Txt>
      <Txt x={294.7} y={746.7} left>Hip replacement surgery</Txt>
      <Txt x={739.7} y={927.3} left>Nose cold</Txt>
      <LegendBox l={892} t={672.7} w={96.8} h={125.6} items={C_LEGEND} colors={C_COLORS} y0={688.3} dy={23.2} mx={896.6} ms={9.5} tx={913} size={21.5} />

      {/* Panel D texts */}
      <Circ x={116.5} y={1246.7} l="D" />
      <Txt x={118.2} y={1372.7} bold rot>Pain medication</Txt>
      <LegendBox l={436.5} t={1236.7} w={144.3} h={154.3} items={D_LEGEND} colors={D_COLORS} y0={1255} dy={23.3} mx={448} ms={8.3} tx={459.7} size={21.5} />

      {/* Panel E texts */}
      <Circ x={624.3} y={1223.3} l="E" />
      <Txt x={626.8} y={1365} bold rot>(%)</Txt>
      <Txt x={871} y={1543} bold>Days from surgery</Txt>
      <LegendBox l={1077.7} t={1257.3} w={90} h={215.4} items={E_LEGEND} colors={E_COLORS} y0={1291.7} dy={20.6} mx={1082.7} ms={6.5} tx={1099.8} size={19.5} title="Protein" titleX={1092.7} titleY={1272.7} />
    </div>
  );
}
